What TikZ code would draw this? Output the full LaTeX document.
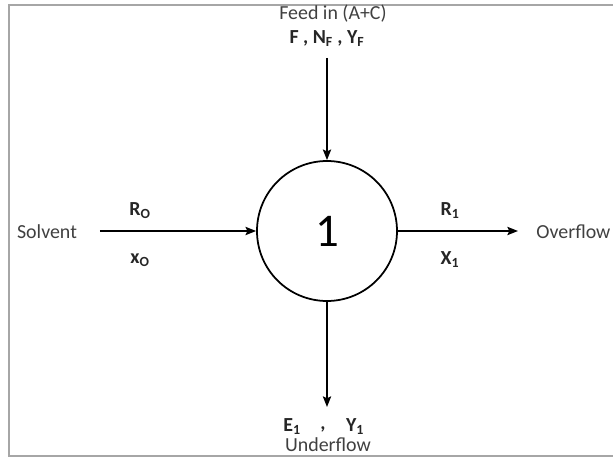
\documentclass[tikz,border=0pt]{standalone}
\usepackage{fontspec}
\setmainfont{Carlito}
\usetikzlibrary{arrows.meta,positioning}

\begin{document}
\begin{tikzpicture}[
  label/.style={font=\fontsize{17}{19}\selectfont, text=black!75, anchor=center, inner sep=1pt},
  var/.style={font=\fontsize{17}{19}\selectfont\bfseries, text=black!85, anchor=center, inner sep=1pt},
  unit/.style={circle, draw, line width=1.5pt, minimum size=4.2cm, inner sep=0pt,
               font=\fontsize{40}{42}\selectfont},
  flow/.style={-{Stealth[length=9pt,width=7pt,inset=1.5pt]}, line width=1.5pt},
]
\useasboundingbox (-9.81,6.93) rectangle (8.58,-6.78);

% Frame
\draw[gray!70, line width=0.9pt]
  (8.8,6.78) -- (-9.54,6.78) -- (-9.54,-6.75) -- (8.8,-6.75);

% Stage
\node[unit] (stage) at (0,0) {1};

% Feed
\node[label] (feedname) at (0.18,6.51) {Feed in (A+C)};
\node[var]   (feedvar)  at (0,5.76)   {F , N\textsubscript{F} , Y\textsubscript{F}};
\coordinate (feedin) at (0,5.19);
\draw[flow] (feedin) -- (stage.north);

% Solvent
\node[label] (solvent) at (-8.4,-0.03) {Solvent};
\coordinate (solvin) at (-6.81,0);
\node[var] (rzero) at (-5.61,0.6)  {R\textsubscript{O}};
\node[var] (xzero) at (-5.61,-0.87) {x\textsubscript{O}};
\draw[flow] (solvin) -- (stage.west);

% Overflow
\coordinate (overout) at (5.73,0);
\node[label, anchor=west] (overflow) at (6.24,-0.03) {Overflow};
\node[var] (rone) at (3.69,0.6)  {R\textsubscript{1}};
\node[var] (xone) at (3.69,-0.87) {X\textsubscript{1}};
\draw[flow] (stage.east) -- (overout);

% Underflow
\coordinate (underout) at (0,-5.28);
\node[var] (eone)  at (-1.05,-5.88) {E\textsubscript{1}};
\node[var] (comma) at (-0.12,-5.94) {,};
\node[var] (yone)  at (0.84,-5.88)  {Y\textsubscript{1}};
\node[label] (underflow) at (0.03,-6.42) {Underflow};
\draw[flow] (stage.south) -- (underout);

\end{tikzpicture}
\end{document}
